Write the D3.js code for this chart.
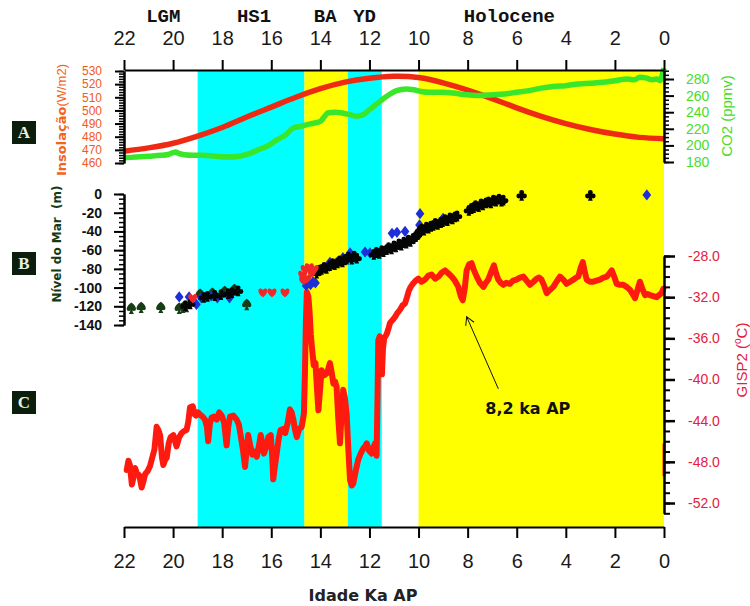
<!DOCTYPE html>
<html>
<head>
<meta charset="utf-8">
<script src="https://cdn.jsdelivr.net/npm/d3@7"></script>
<style>
body { margin: 0; background: #fff; }
text { font-family: "Liberation Sans", Arial, sans-serif; }
</style>
</head>
<body>
<script>
var width = 750, height = 606;

// ---------- data ----------
var kaTicks = [22, 20, 18, 16, 14, 12, 10, 8, 6, 4, 2, 0];
var periodNames = ["LGM", "HS1", "BA", "YD", "Holocene"];
var periodAt = [20.4, 16.7, 13.8, 12.2, 6.3];

var bandNames = ["HS1", "BA", "YD", "Holocene"];
var bandFrom = [19.0, 14.65, 12.88, 10.0];
var bandTo = [14.65, 12.88, 11.5, 0];

// insolation (W/m2)
var insKa = [22, 21, 20, 19, 18, 17, 16, 15, 14, 13, 12, 11, 10, 9, 8, 7, 6, 5, 4, 3, 2, 1, 0];
var insVal = [469, 471.5, 475, 480.5, 487, 495, 502.5, 510, 516.5, 521.5, 524.5, 526, 525, 521, 515.5, 509, 502, 495.5, 490, 485.5, 482, 479.5, 478.5];

// CO2 (ppmv)
var co2 = [[22, 185], [21.5, 186], [21, 187], [20.5, 188], [20.2, 189], [19.9, 192], [19.75, 190], [19.6, 189], [19.2, 188],
  [18.8, 188], [18.3, 187], [17.8, 186], [17.3, 187], [16.9, 190], [16.5, 195], [16.1, 200], [15.8, 206], [15.4, 213],
  [15.1, 221], [14.8, 223], [14.4, 226], [14.0, 229], [13.8, 236], [13.7, 239], [13.4, 240], [13.1, 239], [12.8, 237],
  [12.5, 235], [12.2, 238], [12.0, 243], [11.7, 250], [11.45, 256], [11.2, 261], [10.9, 266], [10.5, 268], [10.2, 267],
  [9.9, 265], [9.5, 264], [9.0, 264], [8.6, 263], [8.0, 261], [7.5, 260], [7.0, 261], [6.5, 262], [6.0, 264], [5.5, 266],
  [5.0, 269], [4.5, 271], [4.0, 272], [3.5, 274], [3.0, 275], [2.5, 276], [2.0, 278], [1.5, 280], [1.2, 279], [1.0, 282],
  [0.7, 281], [0.5, 279], [0.3, 280], [0.15, 278], [0.08, 284], [0, 293]];

// sea level (m): [ka, level]
var seaSpade = [[21.7, -122], [21.3, -121], [20.5, -121], [19.75, -122], [19.6, -121], [19.45, -120], [18.9, -107],
  [18.4, -106], [17.9, -104], [17.5, -102], [17.0, -118]];
var seaClub = [[19.5, -119], [19.3, -117], [18.75, -110], [18.6, -109], [18.3, -108], [18.05, -107], [17.75, -106],
  [17.6, -105], [17.35, -103],
  [14.15, -84], [14.05, -81], [13.95, -80], [13.85, -78], [13.75, -79], [13.62, -76], [13.5, -74], [13.42, -75], [13.3, -73],
  [13.22, -71], [13.1, -72], [13.02, -70], [12.93, -69], [12.85, -67], [12.72, -69], [12.62, -66], [12.52, -68],
  [11.82, -64], [11.72, -62], [11.6, -63], [11.5, -60], [11.43, -61], [11.3, -59], [11.22, -57], [11.1, -58], [11.0, -55],
  [10.92, -56], [10.8, -53], [10.7, -54], [10.6, -51], [10.5, -52], [10.42, -49], [10.33, -50], [10.22, -47], [10.12, -45],
  [10.05, -43], [9.95, -39], [9.88, -37], [9.78, -38], [9.68, -35], [9.6, -36], [9.5, -34], [9.4, -33], [9.32, -31],
  [9.22, -32], [9.1, -30], [9.02, -29], [8.92, -27], [8.82, -28], [8.72, -25], [8.62, -26], [8.52, -24], [8.43, -23],
  [7.95, -17], [7.85, -15], [7.75, -14], [7.68, -12], [7.55, -13], [7.45, -10], [7.38, -11], [7.25, -9], [7.15, -8],
  [7.05, -9], [6.95, -6], [6.85, -7], [6.72, -5], [6.62, -7], [6.55, -6], [5.8, -1], [3.0, -1]];
var seaDiamond = [[19.75, -110], [19.35, -110], [19.05, -118], [18.85, -111], [18.45, -109], [18.2, -111], [17.7, -111],
  [14.58, -98], [14.5, -95], [14.4, -97], [14.3, -94], [14.2, -95], [13.61, -73], [13.08, -68], [12.79, -63],
  [12.18, -62], [11.98, -63], [11.08, -42], [10.88, -41], [10.55, -40], [9.96, -33], [9.94, -21], [9.0, -26], [0.7, -1]];
var seaHeart = [[19.2, -111], [16.34, -105], [15.97, -105], [15.44, -105], [14.72, -86], [14.62, -80], [14.55, -90],
  [14.45, -78], [14.35, -84], [14.25, -80], [14.68, -92]];

// GISP2 temperature (deg C): [ka, T]
var gisp2 = [[21.89, -48.8], [21.82, -47.9], [21.76, -48.3], [21.68, -50.2], [21.62, -49.6], [21.55, -48.6], [21.48, -49.1],
  [21.38, -49.3], [21.28, -50.5], [21.2, -49.8], [21.14, -49.2], [21.04, -48.9], [20.94, -48.4], [20.85, -47.6],
  [20.76, -46.8], [20.67, -44.6], [20.6, -44.9], [20.53, -45.4], [20.45, -47.6], [20.40, -48.3], [20.32, -47.8],
  [20.26, -47.6], [20.18, -46.2], [20.10, -45.6], [19.99, -45.4], [19.92, -46.0], [19.86, -46.5], [19.75, -45.6],
  [19.65, -45.2], [19.55, -45.0], [19.45, -44.9], [19.38, -44.1], [19.31, -42.7], [19.20, -42.6], [19.12, -43.4],
  [19.07, -43.5], [18.98, -43.2], [18.91, -43.4], [18.80, -43.6], [18.70, -43.9], [18.62, -44.6], [18.57, -46.0],
  [18.50, -44.3], [18.43, -43.7], [18.32, -43.6], [18.22, -43.9], [18.12, -43.2], [18.02, -43.5], [17.92, -44.2],
  [17.82, -46.4], [17.75, -44.6], [17.68, -43.6], [17.55, -43.5], [17.41, -43.9], [17.32, -44.4], [17.25, -45.4],
  [17.15, -46.9], [17.07, -48.5], [17.0, -46.8], [16.94, -45.4], [16.85, -46.5], [16.77, -47.3], [16.68, -47.0],
  [16.59, -47.5], [16.50, -46.4], [16.43, -45.4], [16.36, -46.3], [16.30, -47.2], [16.2, -46.5], [16.12, -45.6],
  [16.02, -45.4], [15.96, -47.5], [15.92, -49.7], [15.85, -48.4], [15.78, -47.2], [15.70, -45.8], [15.62, -44.9],
  [15.52, -44.8], [15.43, -45.2], [15.33, -44.2], [15.24, -42.9], [15.17, -43.2], [15.10, -43.9], [15.03, -44.9],
  [14.96, -45.6], [14.86, -44.8], [14.76, -44.6], [14.67, -43.3], [14.63, -39.5], [14.59, -34.5], [14.55, -31.5],
  [14.49, -31.9], [14.44, -33.4], [14.39, -35.6], [14.33, -37.2], [14.27, -38.6], [14.2, -38.4], [14.14, -40.8],
  [14.08, -43.0], [14.02, -41.2], [13.95, -39.1], [13.85, -39.6], [13.74, -39.4], [13.67, -38.9], [13.61, -38.4],
  [13.54, -39.3], [13.47, -40.4], [13.40, -40.2], [13.34, -40.7], [13.27, -43.8], [13.20, -46.2], [13.13, -43.0],
  [13.07, -41.0], [13.0, -41.8], [12.93, -43.3], [12.86, -46.8], [12.79, -49.8], [12.72, -50.3], [12.66, -50.1],
  [12.56, -48.9], [12.46, -47.8], [12.36, -47.2], [12.25, -46.7], [12.18, -46.5], [12.11, -46.2], [12.02, -46.9],
  [11.91, -47.2], [11.84, -46.6], [11.77, -46.2], [11.71, -47.4], [11.67, -41.5], [11.64, -36.2], [11.58, -35.8],
  [11.53, -37.6], [11.49, -39.5], [11.45, -37.0], [11.40, -36.0], [11.30, -35.6], [11.22, -35.0], [11.16, -34.5],
  [11.05, -34.2], [10.95, -33.9], [10.88, -33.6], [10.75, -33.2], [10.65, -32.8], [10.55, -32.6], [10.47, -32.0],
  [10.40, -31.4], [10.32, -31.0], [10.23, -30.7], [10.12, -30.4], [10.01, -30.2], [9.88, -30.5], [9.74, -30.3],
  [9.6, -29.9], [9.47, -29.8], [9.32, -30.2], [9.19, -30.0], [9.05, -29.6], [8.92, -29.4], [8.78, -29.7], [8.65, -30.0],
  [8.52, -30.4], [8.38, -31.0], [8.28, -31.9], [8.20, -32.3], [8.12, -31.2], [8.04, -29.4], [7.94, -28.8], [7.84, -28.7],
  [7.74, -29.4], [7.63, -30.0], [7.50, -30.6], [7.36, -31.0], [7.26, -30.6], [7.16, -30.3], [7.05, -29.6], [6.93, -28.9],
  [6.84, -29.7], [6.75, -30.3], [6.65, -30.6], [6.55, -30.8], [6.42, -30.6], [6.28, -30.7], [6.15, -30.4], [6.01, -30.3],
  [5.87, -30.1], [5.73, -30.0], [5.6, -30.4], [5.46, -30.8], [5.32, -30.5], [5.19, -30.2], [5.09, -30.1], [4.99, -30.3],
  [4.88, -30.9], [4.78, -31.6], [4.65, -31.3], [4.51, -31.0], [4.38, -30.5], [4.24, -30.0], [4.1, -30.3], [3.97, -30.7],
  [3.83, -30.5], [3.69, -30.3], [3.58, -30.1], [3.49, -30.0], [3.40, -29.2], [3.31, -28.6], [3.23, -29.5], [3.15, -30.3],
  [3.02, -30.5], [2.88, -30.5], [2.75, -30.4], [2.61, -30.3], [2.47, -30.1], [2.33, -30.0], [2.23, -29.7], [2.13, -29.4],
  [2.03, -30.0], [1.93, -30.7], [1.8, -30.8], [1.66, -30.8], [1.52, -31.0], [1.38, -31.3], [1.28, -31.7], [1.18, -32.1],
  [1.08, -31.3], [0.98, -30.5], [0.88, -31.2], [0.77, -31.8], [0.67, -31.7], [0.57, -31.8], [0.44, -31.9], [0.30, -32.0],
  [0.20, -31.8], [0.10, -31.6], [0.03, -31.2]];
var gisp2Tail = [[0, -46.2], [0, -49.4]];

// 8.2 ka event arrow: [ka, T]
var noteTip = [8.04, -33.9];
var noteTail = [6.75, -40.9];
var noteText = "8,2 ka AP";

// ---------- scales ----------
var x = d3.scaleLinear().domain([22, 0]).range([124, 664]);
var yIns = d3.scaleLinear().domain([460, 530]).range([163, 71]);
var yCO2 = d3.scaleLinear().domain([180, 290]).range([162, 70.7]);
var ySea = d3.scaleLinear().domain([-140, 0]).range([325, 194]);
var yT = d3.scaleLinear().domain([-53, -28]).range([513.3, 256]);

var bandColor = d3.scaleOrdinal()
  .domain(bandNames)
  .range(["#00ffff", "#ffff00", "#00ffff", "#ffff00"]);

var svg = d3.select("body")
  .append("svg")
    .attr("width", width)
    .attr("height", height);

// ---------- shaded periods ----------
svg.append("g").selectAll("rect")
  .data(bandNames)
  .enter()
  .append("rect")
    .attr("x", (d, i) => x(bandFrom[i]))
    .attr("width", (d, i) => x(bandTo[i]) - x(bandFrom[i]))
    .attr("y", 70)
    .attr("height", 457)
    .attr("fill", (d) => bandColor(d));

// ---------- panel A lines ----------
var insLine = d3.line()
  .x((d, i) => x(insKa[i]))
  .y((d) => yIns(d))
  .curve(d3.curveNatural);

svg.append("path")
  .datum(insVal)
  .attr("d", insLine)
  .attr("fill", "none")
  .attr("stroke", "#ee2b12")
  .attr("stroke-width", 5.5);

svg.append("path")
  .datum(co2)
  .attr("d", d3.line().x((d) => x(d[0])).y((d) => yCO2(d[1])).curve(d3.curveMonotoneX))
  .attr("fill", "none")
  .attr("stroke", "#3ae62a")
  .attr("stroke-width", 5.5)
  .attr("stroke-linejoin", "round");

// ---------- panel C line ----------
var tLine = d3.line().x((d) => x(d[0])).y((d) => yT(d[1]));

svg.append("path")
  .datum(gisp2)
  .attr("d", tLine)
  .attr("fill", "none")
  .attr("stroke", "#ff1a10")
  .attr("stroke-width", 6)
  .attr("stroke-linejoin", "round")
  .attr("stroke-linecap", "round");

svg.append("path")
  .datum(gisp2Tail)
  .attr("d", tLine)
  .attr("fill", "none")
  .attr("stroke", "#ff1a10")
  .attr("stroke-width", 3);

// ---------- panel B markers (card suits) ----------
var suitSpade = { draw: function(c, s) {
  var r = Math.sqrt(s) / 2;
  c.moveTo(0, -r);
  c.bezierCurveTo(r * 1.3, -r * 0.1, r * 0.9, r * 0.9, 0, r * 0.35);
  c.bezierCurveTo(-r * 0.9, r * 0.9, -r * 1.3, -r * 0.1, 0, -r);
  c.closePath();
  c.moveTo(0, r * 0.1);
  c.lineTo(r * 0.45, r * 1.05);
  c.lineTo(-r * 0.45, r * 1.05);
  c.closePath();
}};
var suitClub = { draw: function(c, s) {
  var r = Math.sqrt(s) / 2, k = r * 0.44;
  c.moveTo(k, -r * 0.45);
  c.arc(0, -r * 0.45, k, 0, 2 * Math.PI);
  c.moveTo(-r * 0.5 + k, r * 0.2);
  c.arc(-r * 0.5, r * 0.2, k, 0, 2 * Math.PI);
  c.moveTo(r * 0.5 + k, r * 0.2);
  c.arc(r * 0.5, r * 0.2, k, 0, 2 * Math.PI);
  c.moveTo(0, -r * 0.2);
  c.lineTo(r * 0.42, r * 1.05);
  c.lineTo(-r * 0.42, r * 1.05);
  c.closePath();
}};
var suitDiamond = { draw: function(c, s) {
  var r = Math.sqrt(s) / 2;
  c.moveTo(0, -r * 1.0);
  c.lineTo(r * 0.78, 0);
  c.lineTo(0, r * 1.0);
  c.lineTo(-r * 0.78, 0);
  c.closePath();
}};
var suitHeart = { draw: function(c, s) {
  var r = Math.sqrt(s) / 2;
  c.moveTo(0, r * 0.9);
  c.bezierCurveTo(-r * 1.4, -r * 0.1, -r * 0.7, -r * 1.2, 0, -r * 0.4);
  c.bezierCurveTo(r * 0.7, -r * 1.2, r * 1.4, -r * 0.1, 0, r * 0.9);
  c.closePath();
}};

var suitSets = [
  { pts: seaSpade, type: suitSpade, color: "#173d17" },
  { pts: seaDiamond, type: suitDiamond, color: "#1d2fd8" },
  { pts: seaClub, type: suitClub, color: "#050505" },
  { pts: seaHeart, type: suitHeart, color: "#f0282a" }
];

suitSets.forEach((set) => {
  svg.append("g").selectAll("path")
    .data(set.pts)
    .enter()
    .append("path")
      .attr("transform", (d) => "translate(" + x(d[0]) + "," + ySea(d[1]) + ")")
      .attr("d", d3.symbol().type(set.type).size(125))
      .attr("fill", set.color);
});

// ---------- 8.2 ka annotation ----------
svg.append("defs").append("marker")
    .attr("id", "openArrow")
    .attr("markerUnits", "userSpaceOnUse")
    .attr("viewBox", "-10 -6 12 12")
    .attr("markerWidth", 12)
    .attr("markerHeight", 12)
    .attr("orient", "auto")
  .append("path")
    .attr("d", "M-8,-4.5L0,0L-8,4.5")
    .attr("fill", "none")
    .attr("stroke", "#111")
    .attr("stroke-width", 1);

svg.append("line")
  .attr("x1", x(noteTail[0]))
  .attr("y1", yT(noteTail[1]))
  .attr("x2", x(noteTip[0]))
  .attr("y2", yT(noteTip[1]))
  .attr("stroke", "#111")
  .attr("stroke-width", 1)
  .attr("marker-end", "url(#openArrow)");

svg.append("text")
  .attr("x", x(noteTail[0]) - 13)
  .attr("y", yT(noteTail[1]) + 25)
  .style("font-family", "'DejaVu Sans', Verdana, sans-serif")
  .attr("font-weight", "bold")
  .attr("font-size", "16px")
  .attr("fill", "#111")
  .text(noteText);

// ---------- axes ----------
function styleAxis(g, sw) {
  g.select(".domain").attr("stroke", "#000").attr("stroke-width", 2);
  g.selectAll(".tick line").attr("stroke", "#000").attr("stroke-width", sw);
}

var topAxis = svg.append("g")
  .attr("transform", "translate(0,70)")
  .call(d3.axisTop(x).tickValues(kaTicks).tickSize(10).tickSizeOuter(0).tickPadding(15).tickFormat((d) => d));
styleAxis(topAxis, 2);
topAxis.selectAll("text").attr("font-size", "20px").attr("fill", "#1a1a1a");

var bottomAxis = svg.append("g")
  .attr("transform", "translate(0,527)")
  .call(d3.axisBottom(x).tickValues(kaTicks).tickSize(11).tickSizeOuter(0).tickPadding(16).tickFormat((d) => d));
styleAxis(bottomAxis, 2);
bottomAxis.selectAll("text").attr("font-size", "20px").attr("fill", "#1a1a1a");

// insolation (left, panel A)
var insMinor = svg.append("g").attr("transform", "translate(124,0)")
  .call(d3.axisLeft(yIns).tickValues(d3.range(460, 531, 2)).tickSize(5).tickSizeOuter(0).tickFormat(""));
styleAxis(insMinor, 1.5);
var insAxis = svg.append("g").attr("transform", "translate(124,0)")
  .call(d3.axisLeft(yIns).tickValues(d3.range(460, 531, 10)).tickSize(9).tickSizeOuter(0).tickPadding(13));
styleAxis(insAxis, 2);
insAxis.selectAll("text").attr("font-size", "12px").attr("fill", "#f05a1e");

// CO2 (right, panel A)
var co2Minor = svg.append("g").attr("transform", "translate(664,0)")
  .call(d3.axisRight(yCO2).tickValues(d3.range(180, 291, 5)).tickSize(5).tickSizeOuter(0).tickFormat(""));
styleAxis(co2Minor, 1.5);
var co2Axis = svg.append("g").attr("transform", "translate(664,0)")
  .call(d3.axisRight(yCO2).tickValues(d3.range(180, 281, 20)).tickSize(10).tickSizeOuter(0).tickPadding(12));
styleAxis(co2Axis, 2);
co2Axis.selectAll("text").attr("font-size", "14px").attr("fill", "#48dd2a");

// sea level (left, panel B)
var seaMinor = svg.append("g").attr("transform", "translate(124,0)")
  .call(d3.axisLeft(ySea).tickValues(d3.range(-140, 1, 5)).tickSize(5).tickSizeOuter(0).tickFormat(""));
styleAxis(seaMinor, 1.5);
var seaAxis = svg.append("g").attr("transform", "translate(124,0)")
  .call(d3.axisLeft(ySea).tickValues(d3.range(-140, 1, 20)).tickSize(10).tickSizeOuter(0).tickPadding(12).tickFormat((d) => String(d)));
styleAxis(seaAxis, 2);
seaAxis.selectAll("text").attr("font-size", "14px").attr("font-weight", "bold").attr("fill", "#111");

// GISP2 (right, panel C)
var tMinor = svg.append("g").attr("transform", "translate(664,0)")
  .call(d3.axisRight(yT).tickValues(d3.range(-53, -27, 1)).tickSize(6).tickSizeOuter(0).tickFormat(""));
styleAxis(tMinor, 2);
var tAxis = svg.append("g").attr("transform", "translate(664,0)")
  .call(d3.axisRight(yT).tickValues(d3.range(-52, -27, 4)).tickSize(11).tickSizeOuter(0).tickPadding(13).tickFormat((d) => d.toFixed(1)));
styleAxis(tAxis, 2.5);
tAxis.selectAll("text").attr("font-size", "14px").attr("fill", "#e4203a");

// period names on top
svg.append("g").selectAll("text")
  .data(periodNames)
  .enter()
  .append("text")
    .attr("x", (d, i) => x(periodAt[i]))
    .attr("y", 22)
    .attr("text-anchor", "middle")
    .style("font-family", "'Liberation Mono', 'Courier New', monospace")
    .attr("font-weight", "bold")
    .attr("font-size", "19px")
    .attr("fill", "#111")
    .text((d) => d);

// ---------- axis titles ----------
var insTitle = svg.append("text")
  .attr("transform", "translate(66,120) rotate(-90)")
  .attr("text-anchor", "middle")
  .attr("fill", "#f2641c")
  .attr("font-size", "13px");
insTitle.append("tspan")
  .style("font-family", "'DejaVu Sans', Verdana, sans-serif")
  .attr("font-weight", "bold")
  .text("Insolação");
insTitle.append("tspan").text("(W/m2)");

svg.append("text")
  .attr("transform", "translate(61,244) rotate(-90)")
  .attr("text-anchor", "middle")
  .style("font-family", "'DejaVu Sans', Verdana, sans-serif")
  .style("white-space", "pre")
  .attr("font-weight", "bold")
  .attr("font-size", "12px")
  .attr("fill", "#143a14")
  .text("Nível do Mar  (m)");

svg.append("text")
  .attr("transform", "translate(732,116) rotate(-90)")
  .attr("text-anchor", "middle")
  .attr("font-size", "15px")
  .attr("fill", "#48dd2a")
  .text("CO2 (ppmv)");

var gTitle = svg.append("text")
  .attr("transform", "translate(747,360) rotate(-90)")
  .attr("text-anchor", "middle")
  .attr("font-size", "15px")
  .attr("fill", "#e4203a");
gTitle.append("tspan").text("GISP2 (");
gTitle.append("tspan").attr("font-size", "10px").attr("dy", "-6").text("o");
gTitle.append("tspan").attr("dy", "6").text("C)");

svg.append("text")
  .attr("x", 363)
  .attr("y", 601)
  .attr("text-anchor", "middle")
  .style("font-family", "'DejaVu Sans', Verdana, sans-serif")
  .attr("font-weight", "bold")
  .attr("font-size", "16px")
  .attr("fill", "#222")
  .text("Idade Ka AP");

// ---------- panel letters ----------
var panelNames = ["A", "B", "C"];
var panelTop = [121, 252, 391];
var panels = svg.append("g").selectAll("g")
  .data(panelNames)
  .enter()
  .append("g")
    .attr("transform", (d, i) => "translate(12," + panelTop[i] + ")");
panels.append("rect")
  .attr("width", 24)
  .attr("height", 23)
  .attr("fill", "#0b1d0b");
panels.append("text")
  .attr("x", 12)
  .attr("y", 17)
  .attr("text-anchor", "middle")
  .style("font-family", "'Liberation Serif', 'DejaVu Serif', serif")
  .attr("font-weight", "bold")
  .attr("font-size", "17px")
  .attr("fill", "#e6efe0")
  .text((d) => d);
</script>
</body>
</html>
